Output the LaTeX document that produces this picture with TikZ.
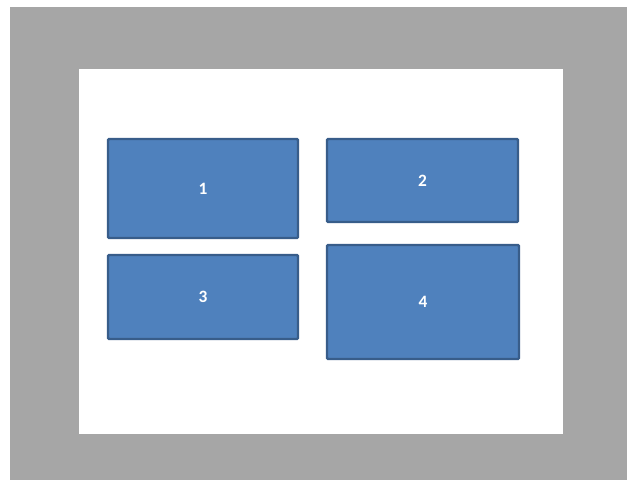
\documentclass[tikz,border=0pt]{standalone}
\usepackage{fontspec}
\setmainfont{Carlito}
\begin{document}
\begin{tikzpicture}[x=0.75pt, y=-0.75pt]
\definecolor{MyGray}{RGB}{166, 166, 166}
\definecolor{MyBlue}{RGB}{79, 129, 189}
\definecolor{MyEdge}{RGB}{56, 93, 138}
\tikzset{panel/.style={draw=MyEdge, fill=MyBlue, line width=1.8pt, text=white,
  inner sep=0pt, rounded corners=0.8pt, font=\fontsize{13}{15}\selectfont\bfseries}}
\useasboundingbox (0, 0) rectangle (628, 480);
\fill[white] (0, 0) rectangle (628, 480);
\fill[MyGray] (10, 7) rectangle (627, 480);
\fill[white] (79, 69) rectangle (563, 434);
\foreach \n/\x/\y/\w/\h in {1/203/188.5/190/99, 2/422.5/180.5/191/83,
                            3/203/297/190/84, 4/423/302/192/114}{
\node[panel, minimum width=\w*0.75pt, minimum height=\h*0.75pt] (box\n) at (\x, \y) {\n};
}
\end{tikzpicture}
\end{document}
